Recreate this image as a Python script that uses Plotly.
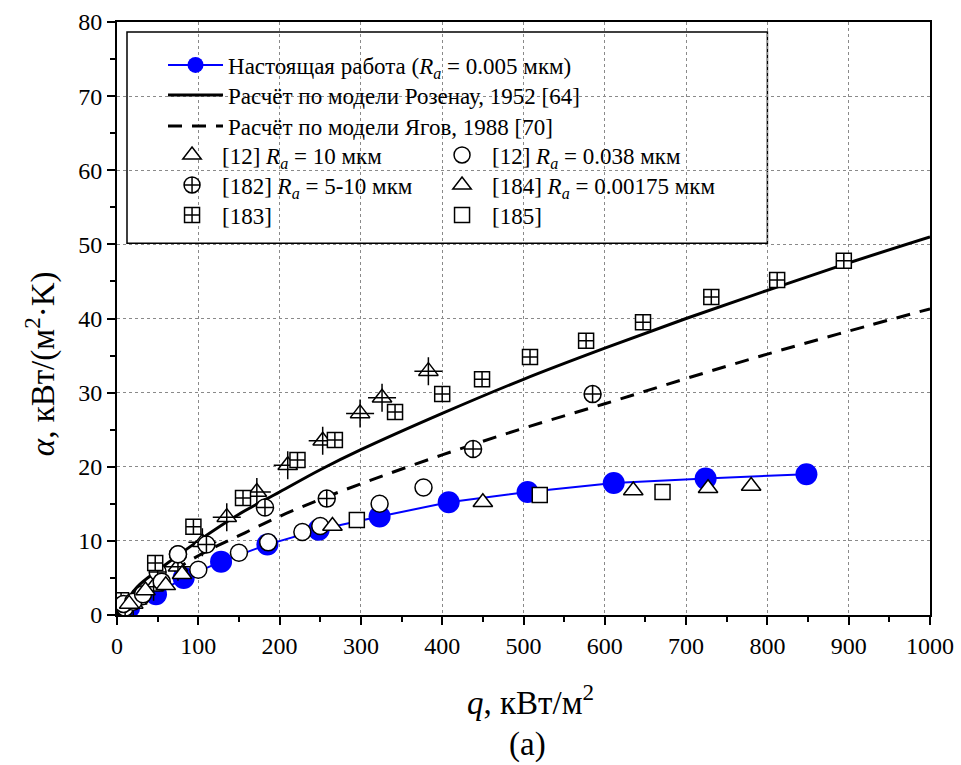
import plotly.graph_objects as go

# ---- data ----
q_present = [15, 48, 82, 128, 185, 248, 323, 408, 505, 611, 724, 848]
a_present = [1.0, 2.8, 5.0, 7.2, 9.5, 11.5, 13.3, 15.2, 16.6, 17.8, 18.4, 19.0]

q_rohsenow = [0, 25, 50, 100, 150, 200, 250, 300, 400, 500, 600, 700, 800, 900, 1000]
a_rohsenow = [0, 3.8, 6.0, 10.0, 13.6, 16.6, 19.6, 22.3, 27.2, 31.8, 36.0, 40.0, 43.8, 47.5, 51.0]

q_yagov = [0, 50, 100, 150, 200, 250, 300, 400, 500, 600, 700, 800, 900, 1000]
a_yagov = [0, 4.5, 8.0, 10.7, 13.3, 15.6, 17.7, 21.6, 25.2, 28.5, 31.9, 35.2, 38.3, 41.3]

q_12_ra10 = [20, 45, 75, 105, 135, 172, 210, 253, 299, 326, 383]
a_12_ra10 = [1.5, 3.8, 6.5, 9.8, 13.2, 16.6, 20.2, 23.5, 27.2, 29.3, 32.9]

q_182 = [10, 30, 50, 75, 110, 182, 258, 438, 585]
a_182 = [1.0, 2.5, 5.8, 8.2, 9.5, 14.5, 15.7, 22.4, 29.8]

q_183 = [5, 47, 94, 155, 222, 268, 342, 400, 449, 508, 577, 647, 731, 812, 894]
a_183 = [2.0, 7.0, 11.9, 15.8, 20.9, 23.6, 27.4, 29.8, 31.8, 34.8, 37.0, 39.5, 42.9, 45.2, 47.8]

q_12_ra0038 = [8, 20, 32, 55, 75, 100, 150, 186, 228, 250, 323, 377]
a_12_ra0038 = [1.5, 1.8, 2.8, 4.5, 8.2, 6.1, 8.4, 9.8, 11.2, 12.0, 15.0, 17.2]

q_184 = [15, 35, 60, 80, 265, 450, 635, 727, 780]
a_184 = [1.5, 3.3, 4.0, 5.5, 12.0, 15.2, 16.8, 17.1, 17.4]

q_185 = [295, 520, 671]
a_185 = [12.8, 16.2, 16.6]

x_ticks = [0, 100, 200, 300, 400, 500, 600, 700, 800, 900, 1000]
y_ticks = [0, 10, 20, 30, 40, 50, 60, 70, 80]

RA = "<i>R<sub>a</sub></i>"
FONT = "'Liberation Serif', 'Times New Roman', Times, serif"

fig = go.Figure()

fig.add_trace(go.Scatter(
    x=q_present, y=a_present, mode="lines+markers",
    name=f"Настоящая работа ({RA} = 0.005 мкм)",
    line=dict(color="#0000ff", width=2),
    marker=dict(symbol="circle", size=22, color="#0000ff"),
    legend="legend"))

fig.add_trace(go.Scatter(
    x=q_rohsenow, y=a_rohsenow, mode="lines", line_shape="spline",
    name="Расчёт по модели Розенау, 1952 [64]",
    line=dict(color="black", width=3), legend="legend2"))

fig.add_trace(go.Scatter(
    x=q_yagov, y=a_yagov, mode="lines", line_shape="spline",
    name="Расчёт по модели Ягов, 1988 [70]",
    line=dict(color="black", width=3, dash="14px,10px"), legend="legend3"))

mk = dict(color="white", size=17, line=dict(color="black", width=1.5))

fig.add_trace(go.Scatter(
    x=q_12_ra10, y=a_12_ra10, mode="markers",
    name=f"[12] {RA} = 10 мкм",
    marker=dict(symbol="triangle-up", **mk), legend="legend4", legendgroup="t10"))
fig.add_trace(go.Scatter(
    x=q_12_ra10, y=a_12_ra10, mode="markers", showlegend=False,
    marker=dict(symbol="cross-thin-open", size=20, color="black", line=dict(color="black", width=1.5)),
    legend="legend4", legendgroup="t10"))

fig.add_trace(go.Scatter(
    x=q_182, y=a_182, mode="markers",
    name=f"[182] {RA} = 5-10 мкм",
    marker=dict(symbol="circle-cross", **mk), legend="legend5"))

fig.add_trace(go.Scatter(
    x=q_183, y=a_183, mode="markers",
    name="[183]",
    marker=dict(symbol="square-cross", **dict(mk, size=15)), legend="legend6"))

fig.add_trace(go.Scatter(
    x=q_12_ra0038, y=a_12_ra0038, mode="markers",
    name=f"[12] {RA} = 0.038 мкм",
    marker=dict(symbol="circle", **mk), legend="legend7"))

fig.add_trace(go.Scatter(
    x=q_184, y=a_184, mode="markers",
    name=f"[184] {RA} = 0.00175 мкм",
    marker=dict(symbol="triangle-up", **mk), legend="legend8"))

fig.add_trace(go.Scatter(
    x=q_185, y=a_185, mode="markers",
    name="[185]",
    marker=dict(symbol="square", **dict(mk, size=15)), legend="legend9"))

axis_common = dict(
    showline=True, linecolor="black", linewidth=2, mirror=True, automargin=False,
    ticks="outside", ticklen=8, tickwidth=1.5, tickcolor="black",
    showgrid=True, gridcolor="#8a8a8a", griddash="dot", gridwidth=1,
    zeroline=False, tickfont=dict(family=FONT, size=24, color="black"),
)

fig.update_xaxes(
    range=[0, 1000], tickvals=x_ticks, ticktext=[str(v) for v in x_ticks],
    minor=dict(ticks="outside", ticklen=5, tickwidth=1.5, tickcolor="black", dtick=50, tick0=0, showgrid=False),
    **axis_common)
fig.update_yaxes(
    range=[0, 80], tickvals=y_ticks, ticktext=[str(v) for v in y_ticks],
    minor=dict(ticks="outside", ticklen=5, tickwidth=1.5, tickcolor="black", dtick=5, tick0=0, showgrid=False),
    **axis_common)

legend_font = dict(family=FONT, size=23, color="black")


def leg(xp, yp, iw):
    return dict(x=xp, y=yp, xanchor="left", yanchor="middle", bgcolor="rgba(0,0,0,0)",
                font=legend_font, itemwidth=iw, tracegroupgap=0, borderwidth=0)


row_y = [0.9275, 0.8769, 0.8246, 0.7757, 0.7251, 0.6745]
xl_line, xl_left, xl_right = 0.0566, 0.0554, 0.3875

fig.update_layout(
    width=961, height=765,
    margin=dict(l=117, r=31, t=22, b=150, autoexpand=False),
    paper_bgcolor="white", plot_bgcolor="white",
    showlegend=True,
    legend=leg(xl_line, row_y[0], 55),
    legend2=leg(xl_line, row_y[1], 55),
    legend3=leg(xl_line, row_y[2], 55),
    legend4=leg(xl_left, row_y[3], 50),
    legend5=leg(xl_left, row_y[4], 50),
    legend6=leg(xl_left, row_y[5], 50),
    legend7=leg(xl_right, row_y[3], 50),
    legend8=leg(xl_right, row_y[4], 50),
    legend9=leg(xl_right, row_y[5], 50),
    shapes=[dict(type="rect", xref="paper", yref="paper", x0=0.0123, x1=0.8, y0=0.627, y1=0.983,
                 line=dict(color="black", width=1.5), fillcolor="white", layer="between")],
    annotations=[
        dict(text="<i>q</i>, кВт/м<sup>2</sup>", xref="paper", yref="paper", x=0.509, y=-0.143,
             xanchor="center", yanchor="middle", showarrow=False,
             font=dict(family=FONT, size=33, color="black")),
        dict(text="<i>α</i>, кВт/(м<sup>2</sup>·K)", xref="paper", yref="paper", x=-0.0947, y=0.423,
             xanchor="center", yanchor="middle", showarrow=False, textangle=-90,
             font=dict(family=FONT, size=33, color="black")),
        dict(text="(a)", xref="paper", yref="paper", x=0.505, y=-0.218,
             xanchor="center", yanchor="middle", showarrow=False,
             font=dict(family=FONT, size=33, color="black")),
    ],
)

fig.write_html("out.html")
